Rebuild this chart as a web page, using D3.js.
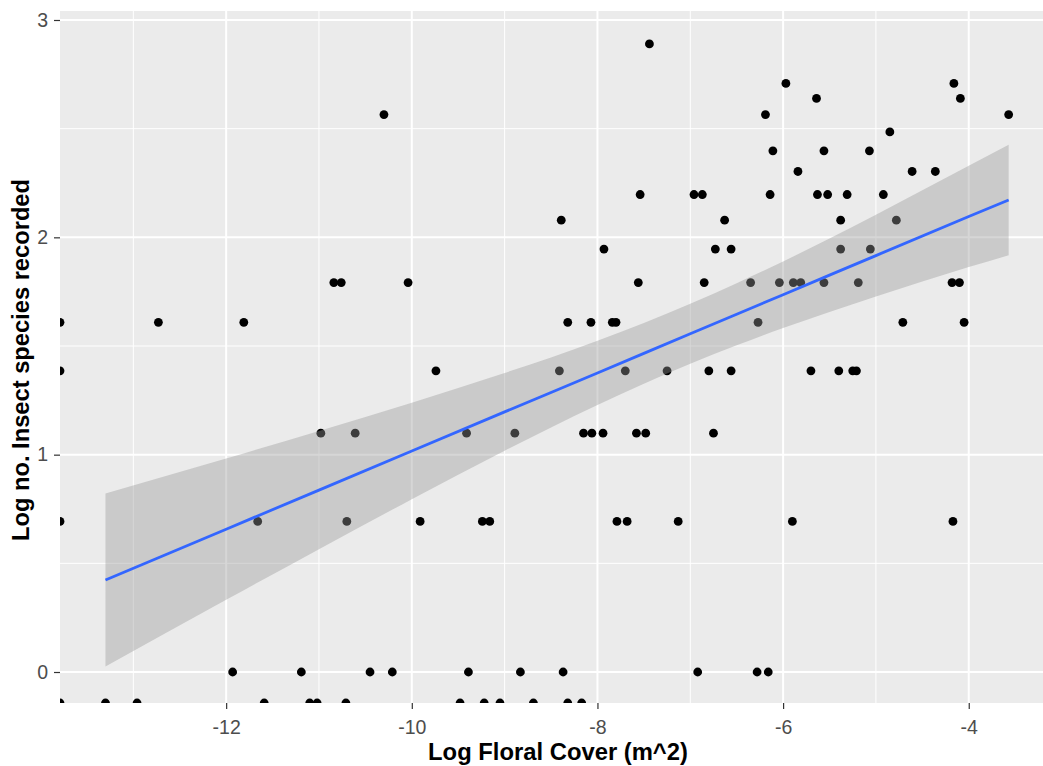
<!DOCTYPE html>
<html>
<head>
<meta charset="utf-8">
<script src="https://cdn.jsdelivr.net/npm/d3@7"></script>
<style>
    body { margin: 0; background: #fff; }
    text { font-family: "Liberation Sans", Arial, sans-serif; }
</style>
</head>
<body>
<div id="chart"></div>
<script>
// Data: log no. of insect species (rows) and the log floral cover of each site in that row
// -Infinity = log(0), drawn on the panel edge like ggplot does
const speciesLevels = [-Infinity, 0, 0.693, 1.099, 1.386, 1.609, 1.792, 1.946, 2.079, 2.197, 2.303, 2.398, 2.485, 2.565, 2.639, 2.708, 2.890];
const floralByLevel = [
    [-Infinity, -13.30, -12.96, -11.59, -11.10, -11.02, -10.71, -9.48, -9.22, -9.05, -8.69, -8.32, -8.17],
    [-11.93, -11.19, -10.45, -10.21, -9.39, -8.83, -8.37, -6.92, -6.28, -6.16],
    [-Infinity, -11.66, -10.70, -9.91, -9.24, -9.16, -7.79, -7.68, -7.13, -5.90, -4.17],
    [-10.98, -10.61, -9.41, -8.89, -8.15, -8.06, -7.94, -7.58, -7.48, -6.75],
    [-Infinity, -9.74, -8.41, -7.70, -7.25, -6.80, -6.56, -5.70, -5.40, -5.25, -5.21],
    [-Infinity, -12.73, -11.81, -8.32, -8.07, -7.84, -7.80, -6.27, -4.71, -4.05],
    [-10.84, -10.76, -10.04, -7.56, -6.85, -6.35, -6.04, -5.89, -5.81, -5.56, -5.19, -4.18, -4.10],
    [-7.93, -6.73, -6.56, -5.38, -5.06],
    [-8.39, -6.63, -5.38, -4.78],
    [-7.54, -6.96, -6.87, -6.14, -5.63, -5.52, -5.31, -4.92],
    [-5.84, -4.61, -4.36],
    [-6.11, -5.56, -5.07],
    [-4.85],
    [-10.30, -6.19, -3.57],
    [-5.64, -4.09],
    [-5.97, -4.16],
    [-7.44]
];

// lm smooth: fitted line and 95% band
const smoothX = [-13.30, -12, -11, -10, -9, -8.5, -8, -7.5, -7, -6.5, -6, -5.5, -5, -4, -3.57];
const smoothFit = [0.423, 0.657, 0.837, 1.017, 1.197, 1.286, 1.376, 1.466, 1.556, 1.646, 1.736, 1.826, 1.916, 2.096, 2.172];
const smoothLower = [0.025, 0.332, 0.565, 0.795, 1.018, 1.125, 1.228, 1.326, 1.418, 1.503, 1.583, 1.657, 1.728, 1.863, 1.918];
const smoothUpper = [0.821, 0.982, 1.109, 1.239, 1.376, 1.447, 1.524, 1.606, 1.694, 1.789, 1.889, 1.995, 2.104, 2.329, 2.426];

const xMajor = [-12, -10, -8, -6, -4];
const xMinor = [-13, -11, -9, -7, -5, -3];
const yMajor = [0, 1, 2, 3];
const yMinor = [0.5, 1.5, 2.5];

// Layout
const W = 1043, H = 766;
const panel = {left: 60, top: 11, right: 1056, bottom: 703};

const svg = d3.select('#chart')
    .append('svg')
    .attr('width', W)
    .attr('height', H);

const x = d3.scaleLinear().domain([-13.79, -3.06]).range([panel.left, panel.right]);
const y = d3.scaleLinear().domain([-0.1426, 3.0414]).range([panel.bottom, panel.top]);

svg.append('defs').append('clipPath')
    .attr('id', 'panel-clip')
    .append('rect')
    .attr('x', panel.left)
    .attr('y', panel.top)
    .attr('width', panel.right - panel.left)
    .attr('height', panel.bottom - panel.top);

// Panel background
svg.append('rect')
    .attr('x', panel.left)
    .attr('y', panel.top)
    .attr('width', panel.right - panel.left)
    .attr('height', panel.bottom - panel.top)
    .attr('fill', '#EBEBEB');

const plot = svg.append('g').attr('clip-path', 'url(#panel-clip)');

// Grid lines
function gridV(values, w) {
    plot.selectAll(null).data(values).enter().append('line')
        .attr('x1', d => x(d)).attr('x2', d => x(d))
        .attr('y1', panel.top).attr('y2', panel.bottom)
        .attr('stroke', '#fff').attr('stroke-width', w);
}
function gridH(values, w) {
    plot.selectAll(null).data(values).enter().append('line')
        .attr('y1', d => y(d)).attr('y2', d => y(d))
        .attr('x1', panel.left).attr('x2', panel.right)
        .attr('stroke', '#fff').attr('stroke-width', w);
}
gridV(xMinor, 1);
gridH(yMinor, 1);
gridV(xMajor, 2);
gridH(yMajor, 2);

// Points (non-finite values go to the panel edge)
const points = [];
speciesLevels.forEach((lv, i) => {
    floralByLevel[i].forEach(fx => points.push({fx, lv}));
});
const clampX = v => isFinite(v) ? x(v) : x.range()[0];
const clampY = v => isFinite(v) ? y(v) : y.range()[0];

plot.selectAll('circle')
    .data(points)
    .enter()
    .append('circle')
    .attr('cx', d => clampX(d.fx))
    .attr('cy', d => clampY(d.lv))
    .attr('r', 4.4)
    .attr('fill', '#000');

// Confidence band + fitted line
const smooth = smoothX.map((sx, i) => ({sx, fit: smoothFit[i], lo: smoothLower[i], hi: smoothUpper[i]}));

plot.append('path')
    .datum(smooth)
    .attr('d', d3.area().curve(d3.curveMonotoneX).x(d => x(d.sx)).y0(d => y(d.lo)).y1(d => y(d.hi)))
    .attr('fill', '#999999')
    .attr('fill-opacity', 0.4);

plot.append('path')
    .datum(smooth)
    .attr('d', d3.line().x(d => x(d.sx)).y(d => y(d.fit)))
    .attr('fill', 'none')
    .attr('stroke', '#3366FF')
    .attr('stroke-width', 2.8);

// Axes
const xAxis = svg.append('g')
    .attr('transform', `translate(0,${panel.bottom})`)
    .call(d3.axisBottom(x).tickValues(xMajor).tickSize(6).tickPadding(11).tickFormat(d3.format('d')));
const yAxis = svg.append('g')
    .attr('transform', `translate(${panel.left},0)`)
    .call(d3.axisLeft(y).tickValues(yMajor).tickSize(6).tickPadding(6).tickFormat(d3.format('d')));

[xAxis, yAxis].forEach(ax => {
    ax.select('.domain').remove();
    ax.selectAll('.tick line').attr('stroke', '#333333').attr('stroke-width', 1.2);
    ax.selectAll('.tick text')
        .attr('fill', '#4D4D4D')
        .style('font-size', '19.5px')
        .style('font-family', '"Liberation Sans", Arial, sans-serif');
});
// ggplot style minus sign is a hyphen
xAxis.selectAll('.tick text').text(d => String(d));

// Axis titles
svg.append('text')
    .attr('x', (panel.left + panel.right) / 2)
    .attr('y', 760)
    .attr('text-anchor', 'middle')
    .style('font-size', '23.8px')
    .style('font-weight', 'bold')
    .attr('fill', '#000')
    .text('Log Floral Cover (m^2)');

svg.append('text')
    .attr('transform', `translate(28.5,${(panel.top + panel.bottom) / 2 + 3}) rotate(-90)`)
    .attr('text-anchor', 'middle')
    .style('font-size', '23.7px')
    .style('font-weight', 'bold')
    .attr('fill', '#000')
    .text('Log no. Insect species recorded');
</script>
</body>
</html>
